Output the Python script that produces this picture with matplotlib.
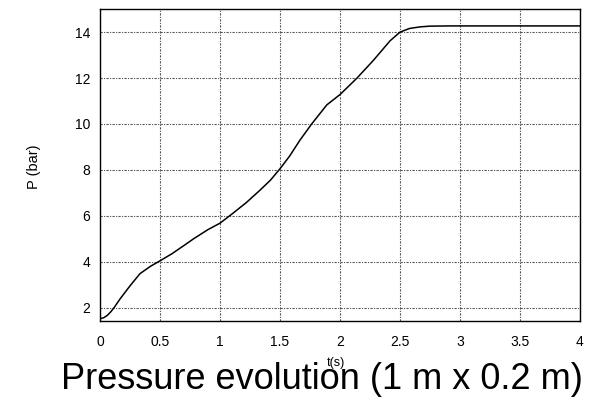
import matplotlib.pyplot as plt

plt.rcParams['font.family'] = ['Liberation Sans', 'DejaVu Sans']

# pressure curve
t = [0.0, 0.03, 0.06, 0.09, 0.12, 0.167, 0.25, 0.333, 0.42, 0.5, 0.6, 0.72, 0.78,
     0.9, 1.0, 1.11, 1.22, 1.33, 1.42, 1.5, 1.58, 1.667, 1.764, 1.89, 2.0, 2.14,
     2.28, 2.417, 2.5, 2.58, 2.67, 2.75, 2.92, 3.5, 4.0]
p = [1.52, 1.56, 1.66, 1.82, 2.02, 2.38, 2.95, 3.48, 3.8, 4.04, 4.35, 4.78, 5.0,
     5.4, 5.68, 6.12, 6.58, 7.1, 7.55, 8.05, 8.6, 9.3, 10.0, 10.83, 11.28, 11.99,
     12.78, 13.62, 14.0, 14.16, 14.23, 14.26, 14.27, 14.27, 14.27]

x_ticks = [0, 0.5, 1, 1.5, 2, 2.5, 3, 3.5, 4]
x_labels = ['0', '0.5', '1', '1.5', '2', '2.5', '3', '3.5', '4']
y_ticks = [2, 4, 6, 8, 10, 12, 14]

fig = plt.figure(figsize=(5.97, 3.98), dpi=100)
ax = fig.add_axes([0.1675, 0.1935, 0.804, 0.7835])

ax.plot(t, p, color='black', lw=1.1)

ax.set_xlim(0, 4)
ax.set_ylim(1.42, 15)
ax.set_xticks(x_ticks)
ax.set_xticklabels(x_labels)
ax.set_yticks(y_ticks)
ax.tick_params(direction='in', length=0, labelsize=10)
ax.tick_params(axis='x', pad=10)
ax.tick_params(axis='y', pad=7)
ax.grid(True, color='#555555', linestyle=(0, (2, 1.2, 1, 1.2)), lw=0.8)
for s in ax.spines.values():
    s.set_linewidth(1.0)

fig.text(34 / 597, 1 - 167 / 398, 'P (bar)', fontsize=10.5, rotation=90,
         ha='center', va='center')
fig.text(336 / 597, 1 - 357 / 398, 't(s)', fontsize=9, ha='center', va='top')
fig.text(321.5 / 597, 1 - 389 / 398, 'Pressure evolution (1 m x 0.2 m)',
         fontsize=26, ha='center', va='baseline')

fig.savefig('out.png', dpi=100)
